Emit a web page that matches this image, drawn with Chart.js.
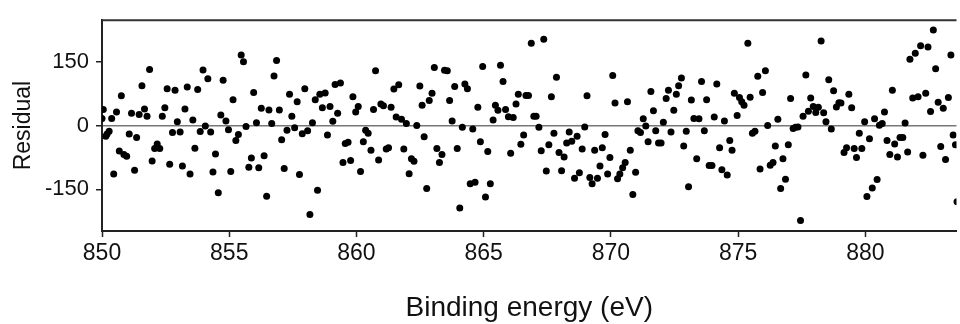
<!DOCTYPE html>
<html>
<head>
<meta charset="utf-8">
<script src="https://cdn.jsdelivr.net/npm/chart.js@4.4.0/dist/chart.umd.min.js"></script>
<style>
html, body { margin: 0; padding: 0; background: #fff; overflow: hidden; }
canvas { display: block; }
</style>
</head>
<body>
<canvas id="residual-plot" width="960" height="324"></canvas>
<script>
// binding energy (eV) of each residual point
const energy = [
  850.05, 850.0, 850.15, 850.2, 850.28, 850.38, 850.57, 850.76, 850.46, 850.68, 850.86, 850.97,
  851.16, 851.07, 851.36, 851.28, 851.46, 851.57, 851.67, 851.77, 851.87, 851.97, 852.07, 852.17,
  852.27, 852.37, 852.47, 852.56, 852.66, 852.77, 852.87, 852.96, 853.07, 853.16, 853.26, 853.35,
  853.46, 853.57, 853.65, 853.76, 853.86, 853.97, 854.06, 854.16, 854.27, 854.36, 854.46, 854.57,
  854.67, 854.76, 854.87, 854.97, 855.06, 855.15, 855.26, 855.36,
  855.47, 855.56, 855.66, 855.77, 855.87, 855.96, 856.07, 856.16, 856.26, 856.37, 856.47, 856.56,
  856.67, 856.76, 856.86, 856.97, 857.06, 857.16, 857.27, 857.37, 857.46, 857.57, 857.67, 857.76,
  857.87, 857.97, 858.08, 858.17, 858.27, 858.38, 858.47, 858.56, 858.66, 858.77, 858.86, 858.96,
  859.07, 859.16, 859.26, 859.37, 859.47, 859.56, 859.67, 859.77, 859.86, 859.97, 860.07, 860.16,
  860.27, 860.36, 860.46, 860.57, 860.67, 860.75, 860.87, 860.96, 861.06, 861.17, 861.26, 861.36,
  861.47, 861.56, 861.66, 861.77, 861.86, 861.96, 862.07, 862.16, 862.26, 862.37,
  862.49, 862.58, 862.66, 862.76, 862.86, 862.97, 863.06, 863.16, 863.26, 863.36, 863.46, 863.57,
  863.66, 863.76, 863.86, 863.96, 864.06, 864.16, 864.26, 864.36, 864.47, 864.57, 864.66, 864.77,
  864.87, 864.96, 865.07, 865.16, 865.26, 865.37, 865.46, 865.56, 865.66, 865.76, 865.86, 865.97,
  866.06, 866.16, 866.27, 866.36, 866.46, 866.57, 866.66, 866.76, 866.87, 866.97, 867.06, 867.17,
  867.26, 867.36, 867.46, 867.56, 867.66, 867.76, 867.86, 867.96, 868.06, 868.16, 868.26, 868.36,
  868.46, 868.57, 868.67, 868.76, 868.87, 868.97, 869.06, 869.17, 869.26, 869.36, 869.47,
  869.57, 869.66, 869.77, 869.87, 869.96, 870.07, 870.16, 870.26, 870.35, 870.46, 870.56, 870.65,
  870.76, 870.86, 870.97, 871.06, 871.16, 871.27, 871.37, 871.46, 871.57, 871.67, 871.76, 871.87,
  871.97, 872.06, 872.17, 872.26, 872.36, 872.47, 872.57, 872.66, 872.77, 872.86, 872.96, 873.05,
  873.16, 873.26, 873.37, 873.46, 873.56, 873.67, 873.76, 873.86, 873.97, 874.06, 874.16, 874.27,
  874.36, 874.46, 874.57, 874.67, 874.76, 874.85, 874.96, 875.05, 875.14, 875.23, 875.38, 875.47,
  875.56, 875.66, 875.77, 875.86, 875.96, 876.07, 876.16, 876.26, 876.37, 876.46,
  876.56, 876.67, 876.76, 876.86, 876.97, 877.06, 877.16, 877.25, 877.35, 877.45, 877.55, 877.66,
  877.76, 877.85, 877.95, 878.05, 878.15, 878.26, 878.36, 878.45, 878.56, 878.66, 878.75, 878.86,
  878.96, 879.04, 879.16, 879.26, 879.35, 879.46, 879.56, 879.65, 879.76, 879.86, 879.97, 880.06,
  880.16, 880.27, 880.36, 880.46, 880.55, 880.66, 880.75, 880.85, 880.96, 881.06, 881.15, 881.26,
  881.36, 881.47, 881.56, 881.66, 881.75, 881.86, 881.96, 882.07, 882.17, 882.26, 882.37, 882.46,
  882.56, 882.67, 882.76, 882.86, 882.96, 883.06, 883.15, 883.26, 883.36, 883.45, 883.54, 883.6
];

// fit residual at each energy
const residual = [
  38, 17, -25, -20, -13, 17, 32, 70, -114, -60, -68, -72,
  29, -20, -28, -105, 26, 94, 39, 22, 132, -83, -54, -43,
  -54, 22, 42, 87, -91, -16, 83, 9, -15, -95, 39, 91,
  -114, 13, -53, 85, -14, 131, -1, 110, -15, -109, -67, -158,
  25, 107, 11, -10, -108, 61, -35, -21,
  166, 150, -2, -98, -76, 78, 7, -99, 41, -71, -166, 37,
  5, 117, 153, 37, -33, -101, -11, 74, 22, -5, 56, -115,
  -19, 87, -12, -209, 7, 61, -152, 74, 42, 77, -22, 45,
  10, 97, 29, 100, -87, -42, -39, -82, 68, 32, 45, -108,
  -38, -11, -18, -58, 38, 129, -81, 51, 47, -55, -52, 43,
  86, 20, 96, 15, -55, 5, -113, -78, -84, 0,
  93, 48, -26, -148, 59, 76, 137, -54, -87, -68, 130, 129,
  59, 11, 92, -54, -194, -4, 98, 87, -137, -8, -133, 43,
  -38, 139, -168, -61, -137, 13, 48, 36, 142, 104, 38, 21,
  -65, 19, 51, 74, -44, -22, 71, 71, 194, 22, 22, -4,
  -59, 203, -107, -45, 68, -18, 114, -63, -106, -74, -41, -15,
  -37, -124, -25, -111, -55, -3, 70, -122, -137, -58, -124,
  -95, -52, -21, -114, -75, 118, 53, -125, -114, -99, -87, 56,
  -58, -162, -110, -12, -16, 16, -1, -38, 80, 35, -12, -41,
  -41, 8, 64, 83, -15, 36, 74, 94, 112, -48, -13, -144,
  60, 17, -78, 16, 104, -12, 61, -94, -94, 20, 98, -52,
  -104, 11, -116, -35, -58, 76, 24, 66, 56, 48, 194, 67,
  -18, -13, 116, -102, 78, 129, 0, -93, -87, -48,
  15, -148, -78, -126, -45, 64, -7, -4, -3, -223, 22, 119,
  34, 65, 45, 31, 43, 199, 30, 9, 108, -8, 82, 44,
  54, 53, -63, -52, 74, 42, -54, -75, -18, -54, 9, -167,
  -31, -147, 16, -127, 1, 5, 32, -35, -68, 83, -43, -74,
  -28, -28, 6, -62, 156, 65, 170, 68, 188, -70, 76, 185,
  33, 225, 134, 55, -49, 41, -80, 66, 166, -22, -45, -179
];

const xTicks = [850, 855, 860, 865, 870, 875, 880];
const yTicks = [-150, 0, 150];

const fontFamily = "'Liberation Sans', Arial, sans-serif";

// the frame line along the top of the plot
const topBorder = {
  id: 'topBorder',
  afterDraw(chart) {
    const {ctx, chartArea} = chart;
    ctx.save();
    ctx.strokeStyle = '#333';
    ctx.lineWidth = 2;
    ctx.beginPath();
    ctx.moveTo(chartArea.left, chartArea.top);
    ctx.lineTo(chartArea.right, chartArea.top);
    ctx.stroke();
    ctx.restore();
  }
};

const points = energy.map((e, i) => ({x: e, y: residual[i]}));

let canvasElement = document.getElementById('residual-plot').getContext('2d');

const residualChart = new Chart(canvasElement, {
  type: 'scatter',
  data: {
    datasets: [{
      label: 'Residual',
      data: points,
      backgroundColor: '#000',
      borderWidth: 0,
      pointRadius: 3.5,
      pointHoverRadius: 3.5
    }]
  },
  options: {
    responsive: false,
    animation: false,
    layout: {padding: {top: 14, right: 0, bottom: 0, left: 0}},
    plugins: {
      legend: {display: false},
      tooltip: {enabled: false}
    },
    scales: {
      x: {
        type: 'linear',
        min: 850,
        max: 883.58,
        afterBuildTicks: s => { s.ticks = xTicks.map(v => ({value: v})); },
        afterFit: s => { s.height = 93; },
        grid: {drawOnChartArea: false, drawTicks: true, tickLength: 6, tickColor: '#222', tickWidth: 1.5},
        border: {color: '#222', width: 2},
        ticks: {color: '#111', font: {family: fontFamily, size: 23}, padding: 3, maxRotation: 0},
        title: {
          display: true,
          text: 'Binding energy (eV)',
          color: '#111',
          font: {family: fontFamily, size: 28, lineHeight: 1.1},
          padding: {top: 0, bottom: 0}
        }
      },
      y: {
        min: -248,
        max: 248,
        afterBuildTicks: s => { s.ticks = yTicks.map(v => ({value: v})); },
        afterFit: s => { s.width = 102; },
        grid: {
          drawOnChartArea: true,
          color: c => (c.tick && c.tick.value === 0) ? '#777' : 'rgba(0,0,0,0)',
          lineWidth: 1.5,
          drawTicks: true,
          tickLength: 6,
          tickColor: '#222',
          tickWidth: 1.5
        },
        border: {color: '#222', width: 2},
        ticks: {color: '#111', font: {family: fontFamily, size: 22}, padding: 7},
        title: {
          display: true,
          text: 'Residual',
          color: '#111',
          font: {family: fontFamily, size: 23},
          padding: {top: 10, bottom: 0}
        }
      }
    }
  },
  plugins: [topBorder]
});
</script>
</body>
</html>
